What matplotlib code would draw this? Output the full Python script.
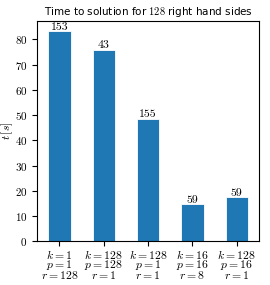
import numpy as np
import matplotlib
matplotlib.use('Agg')
import matplotlib.pyplot as plt

# data
configs = [r'$k=1$' + '\n' + r'$p=1$' + '\n' + r'$r=128$',
           r'$k=128$' + '\n' + r'$p=128$' + '\n' + r'$r=1$',
           r'$k=128$' + '\n' + r'$p=1$' + '\n' + r'$r=1$',
           r'$k=16$' + '\n' + r'$p=16$' + '\n' + r'$r=8$',
           r'$k=128$' + '\n' + r'$p=16$' + '\n' + r'$r=1$']
times = [83.2, 75.9, 48.6, 14.8, 17.4]
iterations = [153, 43, 155, 59, 59]

plt.rcParams['font.family'] = 'serif'
plt.rcParams['font.serif'] = ['cmr10']
plt.rcParams['mathtext.fontset'] = 'cm'
plt.rcParams['axes.unicode_minus'] = False
plt.rcParams['axes.formatter.use_mathtext'] = True

fig = plt.figure(figsize=(2.7, 2.85), dpi=100)
ax = fig.add_axes([0.138, 0.153, 0.821, 0.774])

x = np.arange(len(times))
bars = ax.bar(x, times, width=0.5, color='#1f77b4', edgecolor='white', linewidth=0.6)
ax.set_xlim(-0.5, len(times) - 0.5)
ax.set_ylim(0, max(times) * 1.05)

# iteration counts above bars
for b, it in zip(bars, iterations):
    ax.text(b.get_x() + b.get_width() / 2, b.get_height() - 0.3, str(it),
            ha='center', va='bottom', fontsize=8.5)

ax.set_xticks(x)
ax.set_xticklabels(configs, fontsize=8.5, linespacing=0.72)
ax.tick_params(axis='x', pad=1)
ax.set_yticks(np.arange(0, 90, 10))
ax.tick_params(axis='y', labelsize=8)
ax.set_ylabel(r'$t\,[s]$', fontsize=8.5)
ax.yaxis.set_label_coords(-0.1, 0.5)
ax.set_title(r'Time to solution for $128$ right hand sides', fontsize=7.5,
             family='DejaVu Sans', pad=4)

fig.savefig('out.png', dpi=100)
